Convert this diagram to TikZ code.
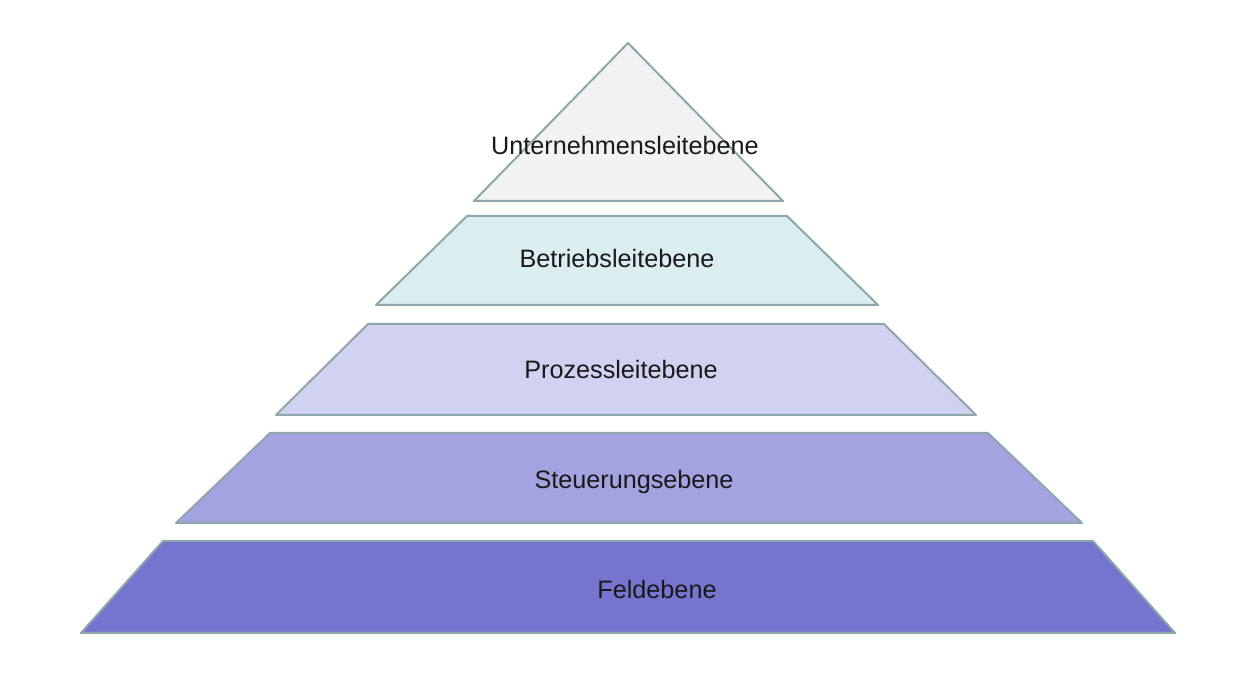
\documentclass[tikz,border=0pt]{standalone}
\usepackage{fontspec}
\setmainfont{Liberation Sans}
\definecolor{edgegray}{HTML}{8DA7AA}
\definecolor{topfill}{HTML}{F2F2F2}
\definecolor{bfill}{HTML}{DAEDF0}
\definecolor{pfill}{HTML}{D1D1F1}
\definecolor{sfill}{HTML}{A4A2E0}
\definecolor{ffill}{HTML}{7574CF}
\tikzset{
    layer/.style={draw=edgegray, line width=1.5pt, line join=round},
    lvl/.style={anchor=base, font=\fontsize{18.9}{22}\selectfont, text=black!90, inner sep=0pt}
}

\begin{document}
\begin{tikzpicture}[x=0.75pt, y=-0.75pt]
    \useasboundingbox (0,0) rectangle (1258,698);

    % Draw layers
    \draw[layer, fill=topfill] (628,43) -- (783,201) -- (474,201) -- cycle;
    \draw[layer, fill=bfill] (467,216) -- (787,216) -- (878,305) -- (376,305) -- cycle;
    \draw[layer, fill=pfill] (368,324) -- (884,324) -- (976,415) -- (276,415) -- cycle;
    \draw[layer, fill=sfill] (270,433) -- (988,433) -- (1082,523) -- (176,523) -- cycle;
    \draw[layer, fill=ffill] (163,541) -- (1093,541) -- (1175,633) -- (81,633) -- cycle;

    % Labels
    \node[lvl] (u) at (625,155) {Unternehmensleitebene};
    \node[lvl] (b) at (617,268) {Betriebsleitebene};
    \node[lvl] (p) at (621,379) {Prozessleitebene};
    \node[lvl] (s) at (634,489) {Steuerungsebene};
    \node[lvl] (f) at (657,599) {Feldebene};
\end{tikzpicture}
\end{document}
